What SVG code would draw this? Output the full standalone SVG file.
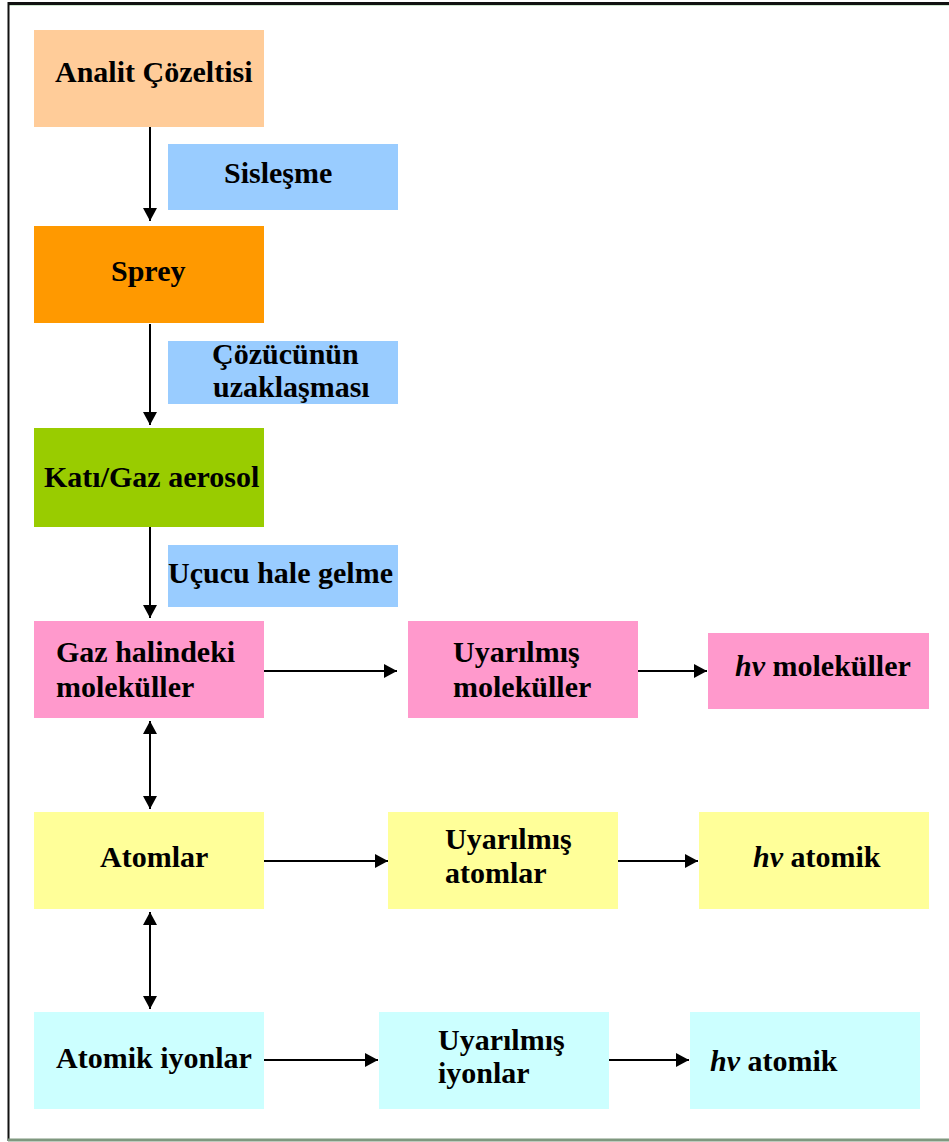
<svg xmlns="http://www.w3.org/2000/svg" width="949" height="1142" viewBox="0 0 949 1142">
<style>
text{font-family:"Liberation Serif","Times New Roman",serif;font-weight:bold;font-size:30px;fill:#000}
.it{font-style:italic}
.c{stroke:#000;stroke-width:2;fill:none}
</style>
<defs>
<marker id="ah" markerUnits="userSpaceOnUse" markerWidth="14" markerHeight="16" refX="13" refY="7" orient="auto-start-reverse">
<path d="M0,0 L13,7 L0,14 Z" fill="#000"/>
</marker>
</defs>
<rect x="0" y="0" width="949" height="1142" fill="#fff"/>
<g id="frame">
<line x1="8" y1="3.5" x2="949" y2="3.5" stroke="#111" stroke-width="3"/>
<line x1="8" y1="5.5" x2="949" y2="5.5" stroke="#cfe8cf" stroke-width="1"/>
<line x1="8.5" y1="2" x2="8.5" y2="1141" stroke="#111" stroke-width="2"/>
<line x1="8" y1="1140" x2="949" y2="1140" stroke="#7f987f" stroke-width="3"/>
</g>
<g id="connectors">
<line class="c" x1="150" y1="127" x2="150" y2="221" marker-end="url(#ah)"/>
<line class="c" x1="150" y1="324" x2="150" y2="425" marker-end="url(#ah)"/>
<line class="c" x1="150" y1="527" x2="150" y2="618" marker-end="url(#ah)"/>
<line class="c" x1="150" y1="721" x2="150" y2="809" marker-start="url(#ah)" marker-end="url(#ah)"/>
<line class="c" x1="150" y1="912" x2="150" y2="1009" marker-start="url(#ah)" marker-end="url(#ah)"/>
<line class="c" x1="264" y1="671" x2="397" y2="671" marker-end="url(#ah)"/>
<line class="c" x1="638" y1="671" x2="707" y2="671" marker-end="url(#ah)"/>
<line class="c" x1="264" y1="861" x2="388" y2="861" marker-end="url(#ah)"/>
<line class="c" x1="618" y1="861" x2="698" y2="861" marker-end="url(#ah)"/>
<line class="c" x1="264" y1="1060" x2="378" y2="1060" marker-end="url(#ah)"/>
<line class="c" x1="609" y1="1060" x2="689" y2="1060" marker-end="url(#ah)"/>
</g>
<g id="analit"><rect x="34" y="30" width="230" height="97" fill="#FFCC99"/><text x="55" y="82">Analit Çözeltisi</text></g>
<g id="sislesme"><rect x="168" y="144" width="230" height="66" fill="#99CCFF"/><text x="224" y="183">Sisleşme</text></g>
<g id="sprey"><rect x="34" y="226" width="230" height="97" fill="#FF9900"/><text x="111" y="281">Sprey</text></g>
<g id="cozucu"><rect x="168" y="341" width="230" height="63" fill="#99CCFF"/><text x="212" y="364">Çözücünün</text><text x="213" y="397">uzaklaşması</text></g>
<g id="kati"><rect x="34" y="428" width="230" height="99" fill="#99CC00"/><text x="44" y="487">Katı/Gaz aerosol</text></g>
<g id="ucucu"><rect x="168" y="545" width="230" height="62" fill="#99CCFF"/><text x="168" y="583">Uçucu hale gelme</text></g>
<g id="gaz"><rect x="34" y="621" width="230" height="97" fill="#FF99CC"/><text x="56" y="662">Gaz halindeki</text><text x="56" y="697">moleküller</text></g>
<g id="uyarmol"><rect x="408" y="621" width="230" height="97" fill="#FF99CC"/><text x="453" y="662">Uyarılmış</text><text x="453" y="697">moleküller</text></g>
<g id="hvmol"><rect x="708" y="633" width="221" height="76" fill="#FF99CC"/><text x="735" y="676"><tspan class="it">hv</tspan> moleküller</text></g>
<g id="atomlar"><rect x="34" y="812" width="230" height="97" fill="#FFFF99"/><text x="100" y="867">Atomlar</text></g>
<g id="uyaratom"><rect x="388" y="812" width="230" height="97" fill="#FFFF99"/><text x="445" y="849">Uyarılmış</text><text x="445" y="883">atomlar</text></g>
<g id="hvatom"><rect x="699" y="812" width="230" height="97" fill="#FFFF99"/><text x="753" y="867"><tspan class="it">hv</tspan> atomik</text></g>
<g id="iyon"><rect x="34" y="1012" width="230" height="97" fill="#CCFFFF"/><text x="56" y="1068">Atomik iyonlar</text></g>
<g id="uyariyon"><rect x="379" y="1012" width="230" height="97" fill="#CCFFFF"/><text x="438" y="1050">Uyarılmış</text><text x="438" y="1083">iyonlar</text></g>
<g id="hviyon"><rect x="690" y="1012" width="230" height="97" fill="#CCFFFF"/><text x="710" y="1071"><tspan class="it">hv</tspan> atomik</text></g>
</svg>
